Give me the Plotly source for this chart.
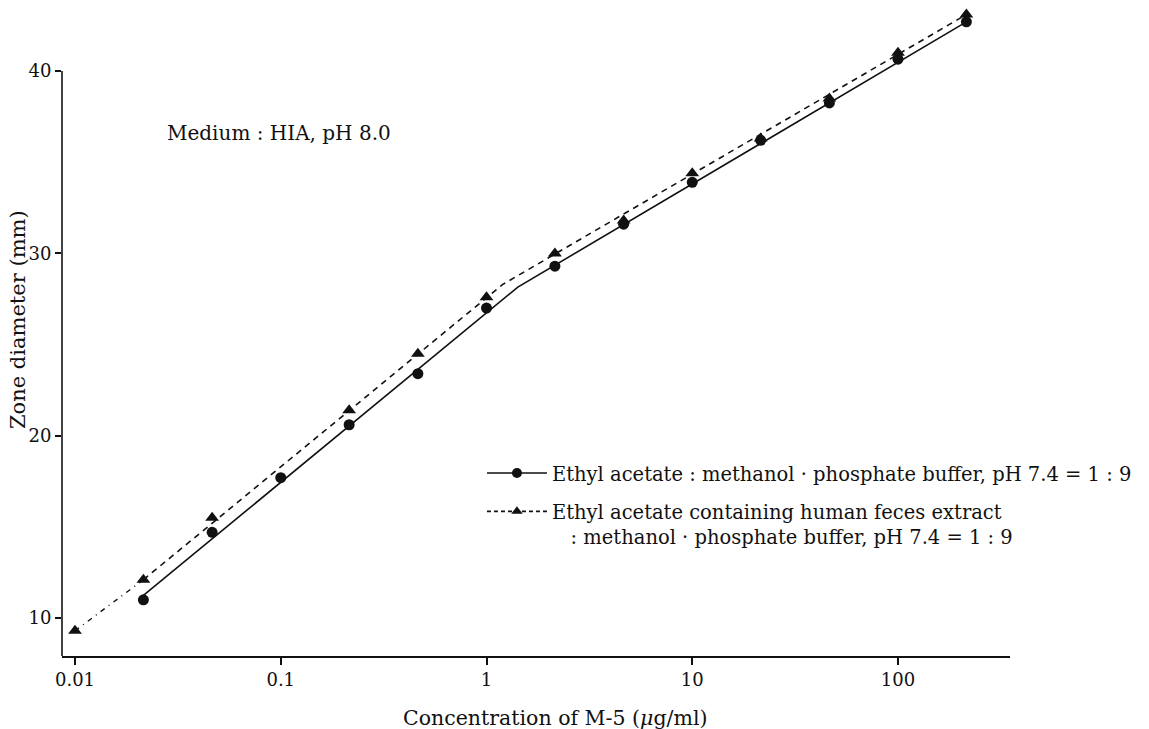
import plotly.graph_objects as go

# ---- data ----
conc = [0.0215, 0.0464, 0.1, 0.215, 0.464, 1, 2.15, 4.64, 10, 21.5, 46.4, 100, 215]
zone_plain = [11.0, 14.7, 17.7, 20.6, 23.4, 27.0, 29.3, 31.6, 33.9, 36.2, 38.25, 40.65, 42.7]

conc_feces = [0.01, 0.0215, 0.0464, 0.215, 0.464, 1, 2.15, 4.64, 10, 21.5, 46.4, 100, 215]
zone_feces = [9.3, 12.1, 15.5, 21.4, 24.5, 27.6, 30.0, 31.8, 34.4, 36.3, 38.5, 41.0, 43.1]

# fitted (regression) lines drawn in the reference
fit_plain_x = [0.0215, 1.42, 215]
fit_plain_y = [11.24, 28.15, 42.7]
fit_feces_x = [0.0215, 1.2, 215]
fit_feces_y = [12.1, 28.3, 43.1]
extrap_feces_x = [0.01, 0.0215]
extrap_feces_y = [9.3, 12.1]

x_ticks = [0.01, 0.1, 1, 10, 100]
x_tick_text = ["0.01", "0.1", "1", "10", "100"]
y_ticks = [10, 20, 30, 40]

label_plain = "Ethyl acetate : methanol · phosphate buffer, pH 7.4 = 1 : 9"
label_feces = ("Ethyl acetate containing human feces extract<br>"
               "&nbsp;&nbsp;&nbsp;: methanol · phosphate buffer, pH 7.4 = 1 : 9")

FONT = "DejaVu Serif"
BLACK = "#111111"

fig = go.Figure()

# fitted lines
fig.add_trace(go.Scatter(x=fit_plain_x, y=fit_plain_y, mode="lines",
                         line=dict(color=BLACK, width=1.6), showlegend=False))
fig.add_trace(go.Scatter(x=fit_feces_x, y=fit_feces_y, mode="lines",
                         line=dict(color=BLACK, width=1.6, dash="6px,5px"),
                         showlegend=False))
fig.add_trace(go.Scatter(x=extrap_feces_x, y=extrap_feces_y, mode="lines",
                         line=dict(color=BLACK, width=1.4, dash="5px,5px,1px,5px"),
                         showlegend=False))

# data points
fig.add_trace(go.Scatter(x=conc, y=zone_plain, mode="markers",
                         marker=dict(symbol="circle", size=11, color=BLACK),
                         showlegend=False, cliponaxis=False))
fig.add_trace(go.Scatter(x=conc_feces, y=zone_feces, mode="markers",
                         marker=dict(symbol="triangle-up", size=12, color=BLACK),
                         showlegend=False, cliponaxis=False))

# legend entries
fig.add_trace(go.Scatter(x=[None], y=[None], mode="lines+markers", name=label_plain,
                         line=dict(color=BLACK, width=1.6),
                         marker=dict(symbol="circle", size=10, color=BLACK),
                         legendgroup="a"))
fig.add_trace(go.Scatter(x=[None], y=[None], mode="lines+markers", name=label_feces,
                         line=dict(color=BLACK, width=1.6, dash="4px,3px"),
                         marker=dict(symbol="triangle-up", size=10, color=BLACK),
                         legendgroup="b"))

# y axis line only up to 40
fig.add_shape(type="line", xref="paper", yref="y", x0=0, x1=0, y0=7.916, y1=40,
              line=dict(color=BLACK, width=1.6))

fig.add_annotation(text="Medium : HIA, pH 8.0", xref="paper", yref="paper",
                   x=0.109, y=0.807, xanchor="left", yanchor="middle",
                   showarrow=False, font=dict(family=FONT, size=20, color=BLACK))
fig.add_annotation(text="Concentration of M-5 (<i>μ</i>g/ml)", xref="paper", yref="paper",
                   x=0.52, y=-0.0957, xanchor="center", yanchor="middle",
                   showarrow=False, font=dict(family=FONT, size=20.5, color=BLACK))
fig.add_annotation(text="Zone diameter (mm)", xref="paper", yref="paper",
                   x=-0.0464, y=(656 - 320) / 648, xanchor="center", yanchor="middle",
                   textangle=-90, showarrow=False,
                   font=dict(family=FONT, size=21, color=BLACK))

fig.update_layout(
    width=1149, height=729,
    margin=dict(l=62, r=139, t=8, b=73),
    paper_bgcolor="white", plot_bgcolor="white",
    font=dict(family=FONT, size=16, color=BLACK),
    xaxis=dict(type="log", range=[-2.0632, 2.5444], tickvals=x_ticks, ticktext=x_tick_text,
               showgrid=False, zeroline=False, showline=True, linecolor=BLACK, linewidth=1.6,
               ticks="outside", ticklen=7, tickwidth=1.5, tickcolor=BLACK,
               tickfont=dict(family=FONT, size=18, color=BLACK)),
    yaxis=dict(range=[7.916, 43.46], tickvals=y_ticks,
               showgrid=False, zeroline=False, showline=False,
               ticks="outside", ticklen=6, tickwidth=1.5, tickcolor=BLACK,
               tickfont=dict(family=FONT, size=18, color=BLACK)),
    legend=dict(x=0.443, y=0.312, xanchor="left", yanchor="top",
                bgcolor="rgba(0,0,0,0)", borderwidth=0, itemwidth=60,
                traceorder="grouped", tracegroupgap=10, valign="top",
                font=dict(family=FONT, size=19.5, color=BLACK)),
)

fig.write_html("out.html")
